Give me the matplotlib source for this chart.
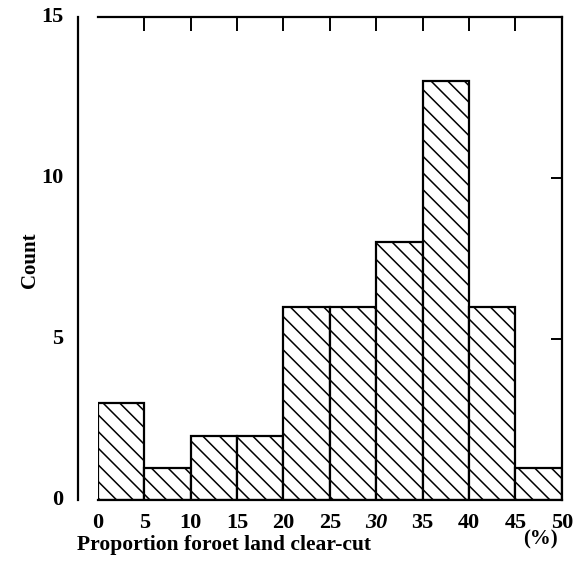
import matplotlib.pyplot as plt

# histogram bins (%) and counts
bin_edges = [0, 5, 10, 15, 20, 25, 30, 35, 40, 45, 50]
counts = [3, 1, 2, 2, 6, 6, 8, 13, 6, 1]
x_labels = ['0', '5', '10', '15', '20', '25', '30', '35', '40', '45', '50']
y_labels = ['0', '5', '10', '15']

plt.rcParams['font.family'] = ['Liberation Serif', 'DejaVu Serif']
plt.rcParams['hatch.linewidth'] = 1.1

fig = plt.figure(figsize=(5.75, 5.78), dpi=100)
ax = fig.add_axes([0.170, 0.135, 0.807, 0.836])

lefts = bin_edges[:-1]
widths = [b - a for a, b in zip(bin_edges[:-1], bin_edges[1:])]
ax.bar(lefts, counts, width=widths, align='edge', facecolor='white',
       edgecolor='black', linewidth=1.6, hatch='\\\\')

ax.set_xlim(0, 50)
ax.set_ylim(0, 15)

# spines
for s in ax.spines.values():
    s.set_linewidth(1.6)
ax.spines['left'].set_position(('outward', 14))

# top ticks (inner bins only), right ticks at 5 and 10
ax.set_xticks(bin_edges[1:-1])
ax.set_xticklabels([])
ax.tick_params(axis='x', bottom=False, top=True, direction='in',
               length=10, width=1.4)
ax.set_yticks([5, 10])
ax.set_yticklabels([])
ax.tick_params(axis='y', left=False, right=True, direction='in',
               length=8, width=1.4)

# tick labels as text
fs = 16
for v, lab in zip(bin_edges, x_labels):
    ax.text(v, -0.4, lab, ha='center', va='top', fontsize=fs,
            fontweight='bold', style='italic' if lab == '30' else 'normal')
for v, lab in zip([0, 5, 10, 15], y_labels):
    ax.text(-3.7, v, lab, ha='right', va='center', fontsize=fs,
            fontweight='bold')

fig.text(0.052, 0.55, 'Count', rotation=90, ha='center', va='center',
         fontsize=15, fontweight='bold')
fig.text(0.39, 0.057, 'Proportion foroet land clear-cut', ha='center',
         va='center', fontsize=15.5, fontweight='bold')
fig.text(0.94, 0.066, '(%)', ha='center', va='center', fontsize=15,
         fontweight='bold')

plt.savefig('out.png', dpi=100)
plt.close()
